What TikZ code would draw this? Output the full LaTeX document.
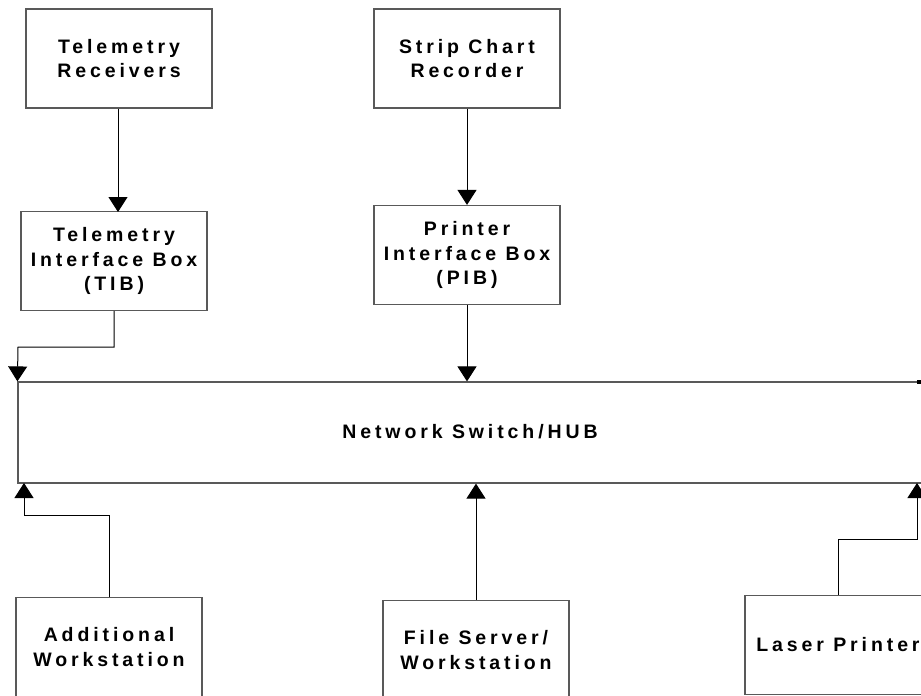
\documentclass[tikz,border=0pt]{standalone}
\usepackage{fontspec}
\newfontfamily\unitfont[LetterSpace=20, BoldFont={Liberation Sans Bold}]{Liberation Sans}
\usetikzlibrary{arrows.meta, positioning}

\begin{document}
\begin{tikzpicture}[
    x=1pt, y=-1pt,
    unit/.style={rectangle, draw=black!65, line width=1.2pt, minimum width=186pt, minimum height=99pt, inner sep=0pt, align=center, font=\unitfont\bfseries\fontsize{19.5}{24.5}\selectfont},
    hubbox/.style={rectangle, draw=black!65, line width=1.2pt, minimum width=912pt, minimum height=101pt, inner sep=0pt},
    tag/.style={font=\unitfont\bfseries\fontsize{19.5}{24.5}\selectfont},
    link/.style={-{Triangle[width=19pt,length=15pt]}, draw=black, line width=1pt}
]
\useasboundingbox (0,0) rectangle (921,696);
\clip (0,0) rectangle (921,696);

% Sources on top
\node[unit] (rcv) at (119, 58.5) {Telemetry\\Receivers};
\node[unit] (scr) at (467, 58.5) {Strip Chart\\Recorder};

% Interface boxes
\node[unit] (tib) at (114, 261) {Telemetry\\Interface Box\\(TIB)};
\node[unit] (pib) at (467, 255) {Printer\\Interface Box\\(PIB)};

% Switch, running past the right edge
\node[hubbox] (hub) at (474, 432.5) {};
\node[tag] (hubname) at (470, 432) {Network Switch/HUB};

% Stations below
\node[unit] (aws) at (109, 647) {Additional\\Workstation};
\node[unit] (fsw) at (476, 650) {File Server/\\Workstation};
\node[unit] (lpr) at (838, 645) {Laser Printer};

% Downward links
\draw[link] (rcv.south -| 118,0) -- (118, 212);
\draw[link] (scr.south) -- (pib.north);
\draw[link] (tib.south) |- (18, 347) -- (hub.north west);
\draw[link] (pib.south) -- (pib.south |- hub.north);

% Upward links
\draw[link] (aws.north) |- (24, 515) -- (24, 483);
\draw[link] (fsw.north) -- (fsw.north |- hub.south);
\draw[link] (lpr.north) |- (917, 539) -- (917, 483);

% stray mark at the switch's top edge
\fill[black] (917, 380) rectangle (921, 383.5);
\end{tikzpicture}
\end{document}
